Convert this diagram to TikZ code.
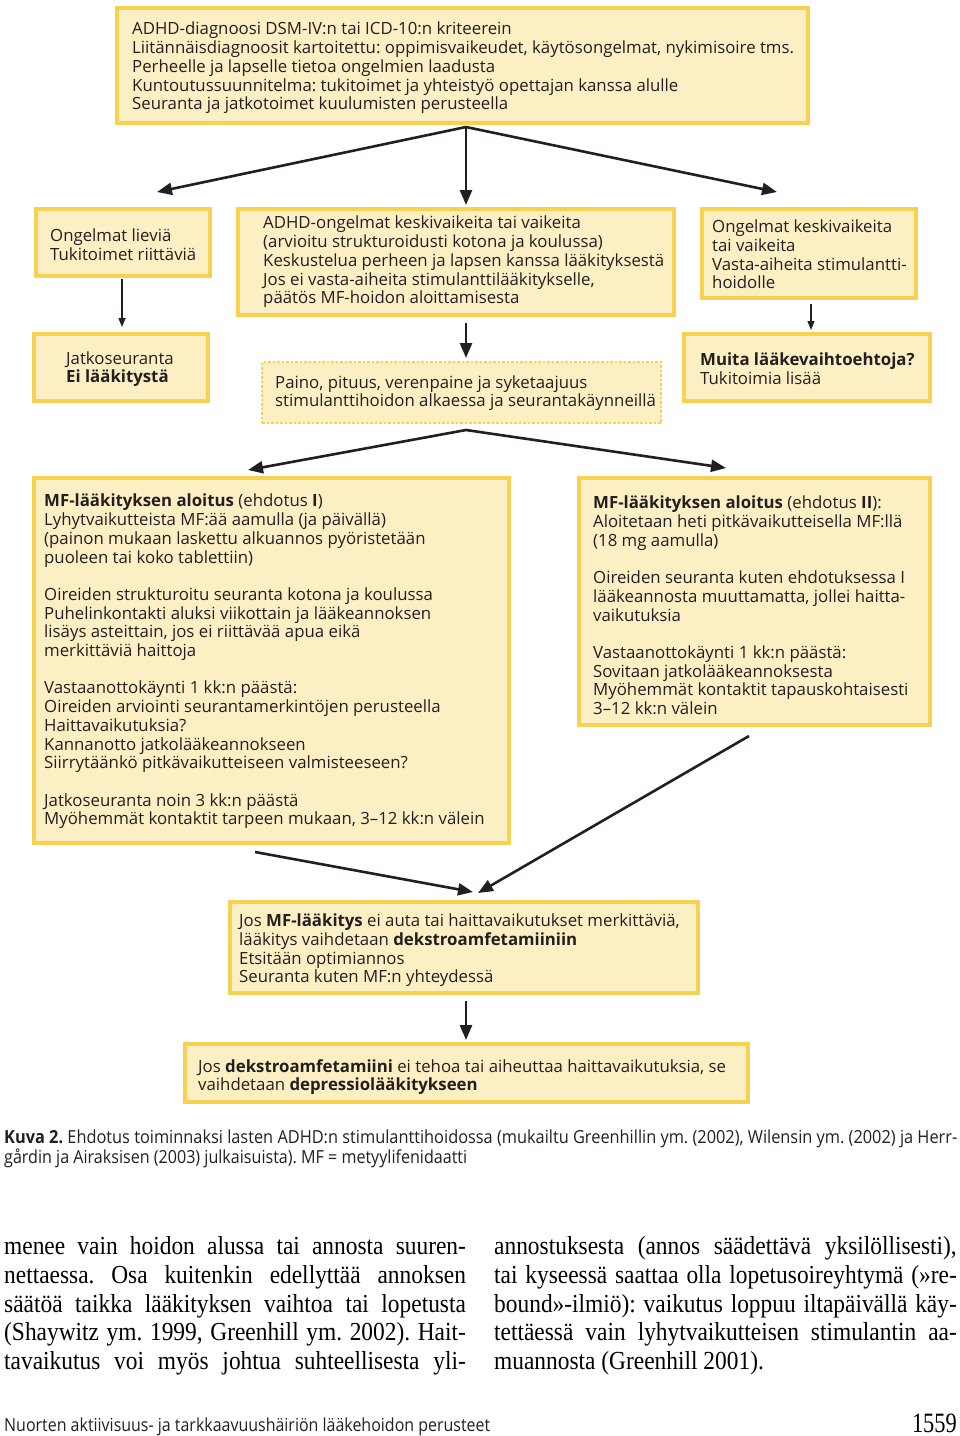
\documentclass[tikz,border=0pt]{standalone}
\usepackage{fontspec}
\usepackage{graphicx}
\setmainfont{Liberation Serif}
\newfontfamily\boxfont{Open Sans}
\usetikzlibrary{arrows.meta,calc}
\definecolor{boxfill}{RGB}{253,239,196}
\definecolor{boxline}{RGB}{247,209,80}
\definecolor{ink}{RGB}{35,31,32}
\newcommand{\bodyline}[2]{\scalebox{0.9}[1]{\makebox[#1][s]{#2}}}
\frenchspacing
\begin{document}
\begin{tikzpicture}[x=1pt,y=-1pt,
  ybox/.style={draw=boxline, fill=boxfill, line width=4pt, inner sep=0pt, outer sep=0pt},
  dotbox/.style={draw=boxline, fill=boxfill, line width=2.5pt, dotted, inner sep=0pt, outer sep=0pt},
  txt/.style={inner sep=0pt, anchor=west, align=left, yshift=-1.5pt, font=\boxfont\fontsize{16.8}{18.7}\selectfont, text=ink},
  bigarrow/.style={draw=ink, line width=2.6pt, -{Triangle[length=15pt,width=12pt]}},
  smallarrow/.style={draw=ink, line width=1.3pt, -{Triangle[length=9pt,width=7pt]}},
  bodytxt/.style={inner sep=0pt, anchor=base west, font=\fontsize{26}{29}\selectfont, text=black},
  captxt/.style={inner sep=0pt, anchor=base west, font=\boxfont\fontsize{18}{20}\selectfont, text=ink}]
\fill[white] (0,0) rectangle (960,1436);
\useasboundingbox (0,0) rectangle (960,1436);

% boxes
\node[ybox, minimum width=691pt, minimum height=115pt] (top) at (462.5,65.5) {};
\node[txt] (toptxt) at (132,66.5) {ADHD-diagnoosi DSM-IV:n tai ICD-10:n kriteerein\\
Liitännäisdiagnoosit kartoitettu: oppimisvaikeudet, käytösongelmat, nykimisoire tms.\\
Perheelle ja lapselle tietoa ongelmien laadusta\\
Kuntoutussuunnitelma: tukitoimet ja yhteistyö opettajan kanssa alulle\\
Seuranta ja jatkotoimet kuulumisten perusteella};

\node[ybox, minimum width=174pt, minimum height=67pt] (lbox) at (123,242.5) {};
\node[txt] (ltxt) at (50,243.5) {Ongelmat lieviä\\Tukitoimet riittäviä};

\node[ybox, minimum width=436pt, minimum height=106pt] (mbox) at (456,262) {};
\node[txt] (mtxt) at (263,260.5) {ADHD-ongelmat keskivaikeita tai vaikeita\\
(arvioitu strukturoidusti kotona ja koulussa)\\
Keskustelua perheen ja lapsen kanssa lääkityksestä\\
Jos ei vasta-aiheita stimulanttilääkitykselle,\\
päätös MF-hoidon aloittamisesta};

\node[ybox, minimum width=214pt, minimum height=89pt] (rbox) at (809,253.5) {};
\node[txt] (rtxt) at (712,253) {Ongelmat keskivaikeita\\tai vaikeita\\Vasta-aiheita stimulantti-\\hoidolle};

\node[ybox, minimum width=174pt, minimum height=67pt] (jbox) at (121,367.5) {};
\node[txt] (jtxt) at (66,367.5) {Jatkoseuranta\\\textbf{Ei lääkitystä}};

\node[dotbox, minimum width=399pt, minimum height=61pt] (dbox) at (461.5,392.5) {};
\node[txt] (dtxt) at (275,391.5) {Paino, pituus, verenpaine ja syketaajuus\\stimulanttihoidon alkaessa ja seurantakäynneillä};

\node[ybox, minimum width=246pt, minimum height=67pt] (mubox) at (807,367.5) {};
\node[txt] (mutxt) at (700,367.5) {\textbf{Muita lääkevaihtoehtoja?}\\Tukitoimia lisää};

\node[ybox, minimum width=475pt, minimum height=365pt] (mf1) at (271.5,660.5) {};
\node[txt] (mf1txt) at (44,660) {\textbf{MF-lääkityksen aloitus} (ehdotus \textbf{I})\\
Lyhytvaikutteista MF:ää aamulla (ja päivällä)\\
(painon mukaan laskettu alkuannos pyöristetään\\
puoleen tai koko tablettiin)\\[18.7pt]
Oireiden strukturoitu seuranta kotona ja koulussa\\
Puhelinkontakti aluksi viikottain ja lääkeannoksen\\
lisäys asteittain, jos ei riittävää apua eikä\\
merkittäviä haittoja\\[18.7pt]
Vastaanottokäynti 1 kk:n päästä:\\
Oireiden arviointi seurantamerkintöjen perusteella\\
Haittavaikutuksia?\\
Kannanotto jatkolääkeannokseen\\
Siirrytäänkö pitkävaikutteiseen valmisteeseen?\\[18.7pt]
Jatkoseuranta noin 3 kk:n päästä\\
Myöhemmät kontaktit tarpeen mukaan, 3–12 kk:n välein};

\node[ybox, minimum width=351pt, minimum height=247pt] (mf2) at (754.5,601.5) {};
\node[txt] (mf2txt) at (593,604) {\textbf{MF-lääkityksen aloitus} (ehdotus \textbf{II}):\\
Aloitetaan heti pitkävaikutteisella MF:llä\\
(18 mg aamulla)\\[18.7pt]
Oireiden seuranta kuten ehdotuksessa I\\
lääkeannosta muuttamatta, jollei haitta-\\
vaikutuksia\\[18.7pt]
Vastaanottokäynti 1 kk:n päästä:\\
Sovitaan jatkolääkeannoksesta\\
Myöhemmät kontaktit tapauskohtaisesti\\
3–12 kk:n välein};

\node[ybox, minimum width=468pt, minimum height=91pt] (dex) at (464,947.5) {};
\node[txt] (dextxt) at (239,949) {Jos \textbf{MF-lääkitys} ei auta tai haittavaikutukset merkittäviä,\\
lääkitys vaihdetaan \textbf{dekstroamfetamiiniin}\\
Etsitään optimiannos\\
Seuranta kuten MF:n yhteydessä};

\node[ybox, minimum width=563pt, minimum height=58pt] (dep) at (466.5,1073) {};
\node[txt] (deptxt) at (198,1075.5) {Jos \textbf{dekstroamfetamiini} ei tehoa tai aiheuttaa haittavaikutuksia, se\\
vaihdetaan \textbf{depressiolääkitykseen}};

% arrow coordinates
\coordinate (tv) at (466,127);
\coordinate (tl) at (157,192);
\coordinate (tm) at (466,205);
\coordinate (tr) at (777,192);
\coordinate (ls) at (122,279);
\coordinate (le) at (122,327);
\coordinate (ms) at (466,323);
\coordinate (me) at (466,358);
\coordinate (rs) at (811,304);
\coordinate (re) at (811,330);
\coordinate (dv) at (466,430);
\coordinate (dl) at (248,470);
\coordinate (dr) at (726,468);
\coordinate (m1s) at (255,852);
\coordinate (m1e) at (473,892);
\coordinate (m2s) at (749,736);
\coordinate (m2e) at (478,893);
\coordinate (xs) at (466,1001);
\coordinate (xe) at (466,1040);

\draw[bigarrow] (tv) -- (tl);
\draw[bigarrow] (tv) -- (tm);
\draw[bigarrow] (tv) -- (tr);
\draw[smallarrow] (ls) -- (le);
\draw[bigarrow] (ms) -- (me);
\draw[smallarrow] (rs) -- (re);
\draw[bigarrow] (dv) -- (dl);
\draw[bigarrow] (dv) -- (dr);
\draw[bigarrow] (m1s) -- (m1e);
\draw[bigarrow] (m2s) -- (m2e);
\draw[bigarrow] (xs) -- (xe);

% caption
\node[captxt] (cap1) at (4,1143) {\resizebox{953pt}{\height}{\textbf{Kuva 2.} Ehdotus toiminnaksi lasten ADHD:n stimulanttihoidossa (mukailtu Greenhillin ym. (2002), Wilensin ym. (2002) ja Herr-}};
\node[captxt] (cap2) at (4,1163) {\resizebox{463pt}{\height}{gårdin ja Airaksisen (2003) julkaisuista). MF = metyylifenidaatti}};

% body text
\node[bodytxt] (bl1) at (4,1254) {\bodyline{513pt}{menee vain hoidon alussa tai annosta suuren-}};
\node[bodytxt] (bl2) at (4,1283) {\bodyline{513pt}{nettaessa. Osa kuitenkin edellyttää annoksen}};
\node[bodytxt] (bl3) at (4,1312) {\bodyline{513pt}{säätöä taikka lääkityksen vaihtoa tai lopetusta}};
\node[bodytxt] (bl4) at (4,1340) {\bodyline{513pt}{(Shaywitz ym. 1999, Greenhill ym. 2002). Hait-}};
\node[bodytxt] (bl5) at (4,1369) {\bodyline{513pt}{tavaikutus voi myös johtua suhteellisesta yli-}};
\node[bodytxt] (br1) at (494,1254) {\bodyline{514pt}{annostuksesta (annos säädettävä yksilöllisesti),}};
\node[bodytxt] (br2) at (494,1283) {\bodyline{514pt}{tai kyseessä saattaa olla lopetusoireyhtymä (»re-}};
\node[bodytxt] (br3) at (494,1312) {\bodyline{514pt}{bound»-ilmiö): vaikutus loppuu iltapäivällä käy-}};
\node[bodytxt] (br4) at (494,1340) {\bodyline{514pt}{tettäessä vain lyhytvaikutteisen stimulantin aa-}};
\node[bodytxt] (br5) at (494,1369) {\scalebox{0.9}[1]{muannosta (Greenhill 2001).}};

% footer
\node[captxt] (foot) at (4,1431) {\resizebox{486pt}{\height}{Nuorten aktiivisuus- ja tarkkaavuushäiriön lääkehoidon perusteet}};
\node[bodytxt, anchor=base east, font=\fontsize{28}{30}\selectfont] (pnum) at (957,1432) {\scalebox{0.8}[1]{1559}};
\end{tikzpicture}
\end{document}
